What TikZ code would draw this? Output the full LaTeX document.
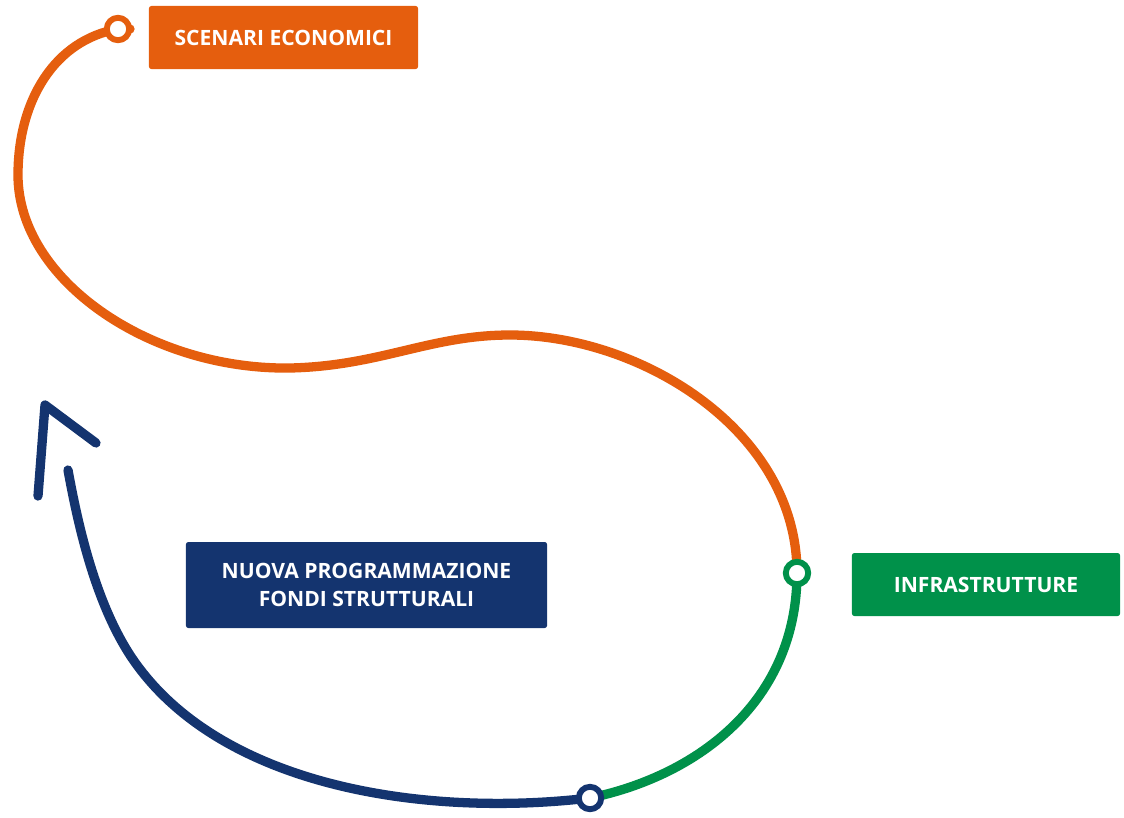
\documentclass[tikz,border=0pt]{standalone}
\usepackage{fontspec}
\setmainfont{Open Sans}
\usetikzlibrary{positioning}
\definecolor{CycleOrange}{HTML}{E55E0E}
\definecolor{CycleGreen}{HTML}{00914A}
\definecolor{CycleBlue}{HTML}{14346F}

\begin{document}
\begin{tikzpicture}[
    x=0.025cm,y=-0.025cm,
    label box/.style={
      rounded corners=0.6mm,
      align=center,
      text=white,
      inner sep=0pt,
      font=\fontsize{15}{20}\selectfont\bfseries
    },
    stop/.style={
      circle,draw=#1,fill=white,
      line width=4.2pt,minimum size=0.56cm,inner sep=0pt
    },
    track/.style={line width=6.6pt,line cap=round,#1}
  ]
    \useasboundingbox (0,0) rectangle (1124,817);
    % labels
    \node[label box,fill=CycleOrange,minimum width=6.725cm,minimum height=1.575cm]
      (scenari) at (283.5,37.5) {SCENARI ECONOMICI};
    \node[label box,fill=CycleGreen,minimum width=6.7cm,minimum height=1.575cm]
      (infra) at (986,584.5) {INFRASTRUTTURE};
    \node[label box,fill=CycleBlue,minimum width=9.025cm,minimum height=2.15cm]
      (fondi) at (366.5,585) {NUOVA PROGRAMMAZIONE\\FONDI STRUTTURALI};
    % points on the loop
    \coordinate (p-scenari) at (118,29);
    \coordinate (p-infra) at (797,573);
    \coordinate (p-fondi) at (590,798);
    \coordinate (p-end) at (68,470);
    % the loop
    \draw[track=CycleOrange] (p-scenari) ++(12,0) -- (p-scenari)
      .. controls (55,40) and (18,100) .. (18,175)
      .. controls (18,280) and (150,370) .. (290,368)
      .. controls (380,366) and (430,335) .. (510,335)
      .. controls (640,335) and (797,430) .. (p-infra);
    \draw[track=CycleGreen] (p-infra)
      .. controls (797,700) and (700,775) .. (p-fondi);
    \draw[track=CycleBlue] (p-fondi)
      .. controls (420,818) and (215,785) .. (130,655)
      .. controls (95,601) and (78,525) .. (p-end);
    \draw[track=CycleBlue,line join=round] (38,496) -- (45,405) -- (96,443);
    % stops
    \node[stop=CycleOrange] (s-scenari) at (p-scenari) {};
    \node[stop=CycleGreen] (s-infra) at (p-infra) {};
    \node[stop=CycleBlue] (s-fondi) at (p-fondi) {};
  \end{tikzpicture}
\end{document}
